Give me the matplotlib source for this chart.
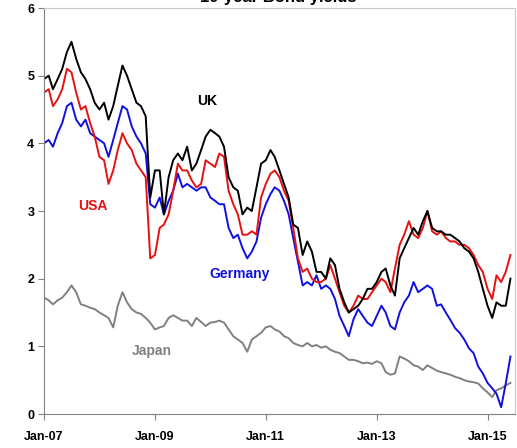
import matplotlib.pyplot as plt
import matplotlib.dates as mdates
import pandas as pd

# monthly 10-year yields, Jan 2007 .. Jun 2015
months = pd.date_range('2007-01-01', periods=102, freq='MS')
tick_dates = pd.to_datetime(['2007-01-01', '2009-01-01', '2011-01-01',
                             '2013-01-01', '2015-01-01'])

uk = [4.95, 5.0, 4.8, 4.95, 5.1, 5.35, 5.5, 5.25, 5.05, 4.95, 4.8, 4.6,
      4.5, 4.6, 4.35, 4.55, 4.85, 5.15, 5.0, 4.8, 4.6, 4.55, 4.4, 3.2,
      3.6, 3.6, 2.95, 3.5, 3.75, 3.85, 3.75, 3.95, 3.6, 3.7, 3.9, 4.1,
      4.2, 4.15, 4.1, 3.95, 3.5, 3.35, 3.3, 2.95, 3.05, 3.0, 3.35, 3.7,
      3.75, 3.9, 3.8, 3.6, 3.4, 3.2, 2.8, 2.75, 2.35, 2.55, 2.4, 2.1,
      2.1, 2.0, 2.3, 2.2, 1.85, 1.65, 1.5, 1.55, 1.6, 1.7, 1.85, 1.85,
      1.95, 2.1, 2.15, 1.9, 1.75, 2.3, 2.45, 2.6, 2.75, 2.65, 2.85, 3.0,
      2.75, 2.7, 2.7, 2.65, 2.65, 2.6, 2.55, 2.45, 2.4, 2.3, 2.1, 1.85,
      1.6, 1.42, 1.65, 1.6, 1.6, 2.0]

usa = [4.75, 4.8, 4.55, 4.65, 4.8, 5.1, 5.05, 4.75, 4.5, 4.55, 4.3, 4.1,
       3.8, 3.75, 3.4, 3.6, 3.9, 4.15, 4.0, 3.9, 3.7, 3.6, 3.5, 2.3,
       2.35, 2.75, 2.8, 2.95, 3.3, 3.7, 3.6, 3.6, 3.45, 3.35, 3.4, 3.75,
       3.7, 3.65, 3.85, 3.8, 3.3, 3.1, 2.95, 2.65, 2.65, 2.7, 2.65, 3.2,
       3.4, 3.55, 3.6, 3.5, 3.3, 3.15, 2.75, 2.3, 2.1, 2.15, 2.0, 1.95,
       1.95, 2.0, 2.2, 2.0, 1.8, 1.6, 1.5, 1.6, 1.75, 1.7, 1.7, 1.8,
       1.9, 2.0, 1.95, 1.8, 2.15, 2.5, 2.65, 2.85, 2.65, 2.6, 2.75, 3.0,
       2.7, 2.65, 2.7, 2.6, 2.55, 2.55, 2.5, 2.5, 2.45, 2.35, 2.2, 2.1,
       1.85, 1.7, 2.05, 1.95, 2.1, 2.35]

germany = [4.0, 4.05, 3.95, 4.15, 4.3, 4.55, 4.6, 4.35, 4.25, 4.35, 4.15, 4.1,
           4.05, 4.0, 3.8, 4.05, 4.3, 4.55, 4.5, 4.25, 4.1, 4.0, 3.85, 3.1,
           3.05, 3.2, 2.95, 3.15, 3.3, 3.55, 3.35, 3.4, 3.35, 3.3, 3.35, 3.35,
           3.2, 3.15, 3.1, 3.1, 2.75, 2.6, 2.65, 2.45, 2.3, 2.4, 2.55, 2.9,
           3.1, 3.25, 3.35, 3.3, 3.15, 2.95, 2.6, 2.25, 1.9, 1.95, 1.9, 2.05,
           1.85, 1.9, 1.85, 1.7, 1.45, 1.3, 1.15, 1.4, 1.55, 1.45, 1.35, 1.3,
           1.45, 1.6, 1.5, 1.3, 1.25, 1.5, 1.65, 1.75, 1.95, 1.8, 1.85, 1.9,
           1.85, 1.6, 1.62, 1.5, 1.39, 1.27, 1.2, 1.1, 0.97, 0.9, 0.7, 0.6,
           0.46, 0.38, 0.3, 0.1, 0.45, 0.85]

japan = [1.72, 1.68, 1.62, 1.68, 1.72, 1.8, 1.9, 1.8, 1.62, 1.6, 1.57, 1.55,
         1.5, 1.46, 1.42, 1.28, 1.6, 1.8, 1.65, 1.55, 1.5, 1.48, 1.42, 1.35,
         1.25, 1.28, 1.3, 1.42, 1.46, 1.42, 1.38, 1.38, 1.3, 1.42, 1.36, 1.3,
         1.35, 1.36, 1.38, 1.35, 1.25, 1.15, 1.1, 1.05, 0.92, 1.1, 1.15, 1.2,
         1.28, 1.3, 1.25, 1.22, 1.15, 1.12, 1.05, 1.02, 1.0, 1.05, 1.0, 1.02,
         0.98, 1.0, 0.95, 0.92, 0.9, 0.85, 0.8, 0.8, 0.78, 0.75, 0.76, 0.74,
         0.78, 0.75, 0.62, 0.58, 0.6, 0.85, 0.82, 0.78, 0.72, 0.7, 0.65, 0.72,
         0.68, 0.64, 0.62, 0.6, 0.58, 0.55, 0.53, 0.5, 0.48, 0.47, 0.45, 0.38,
         0.32, 0.25, 0.35, 0.38, 0.42, 0.46]

plt.rcParams['font.family'] = ['Liberation Sans', 'DejaVu Sans']

fig = plt.figure(figsize=(5.17, 4.48), dpi=100)
ax = fig.add_axes([44 / 517, 1 - 414 / 448, 471 / 517, 406 / 448])

ax.plot(months, japan, color='#808080', linewidth=1.4)
ax.plot(months, germany, color='#1010e0', linewidth=1.4)
ax.plot(months, usa, color='#e81010', linewidth=1.4)
ax.plot(months, uk, color='black', linewidth=1.4)

ax.set_ylim(0, 6)
ax.set_xlim(pd.Timestamp('2007-01-01'), pd.Timestamp('2015-07-01'))
ax.set_xticks(tick_dates)
ax.xaxis.set_major_formatter(mdates.DateFormatter('%b-%y'))
ax.set_yticks(range(0, 7))

for lbl in ax.get_xticklabels() + ax.get_yticklabels():
  lbl.set_fontweight('bold')
  lbl.set_fontsize(9)
ax.tick_params(axis='both', direction='out', length=4, width=0.8,
               color='#808080', pad=3)
ax.tick_params(axis='x', pad=8)

# axis frame: dark left/bottom, light top/right
ax.spines['left'].set_color('#808080')
ax.spines['bottom'].set_color('#808080')
ax.spines['top'].set_color('#c8c8c8')
ax.spines['right'].set_color('#c8c8c8')

# series labels
ax.text(pd.Timestamp('2009-12-10'), 4.62, 'UK', color='black',
        fontsize=10, fontweight='bold', ha='center', va='center')
ax.text(pd.Timestamp('2007-11-20'), 3.07, 'USA', color='#e81010',
        fontsize=10, fontweight='bold', ha='center', va='center')
ax.text(pd.Timestamp('2010-07-15'), 2.07, 'Germany', color='#1010e0',
        fontsize=10, fontweight='bold', ha='center', va='center')
ax.text(pd.Timestamp('2008-12-10'), 0.93, 'Japan', color='#808080',
        fontsize=10, fontweight='bold', ha='center', va='center')

fig.text(278 / 517, 1 - 2 / 448, '10-year Bond yields', fontsize=12,
         fontweight='bold', ha='center', va='baseline')

fig.savefig('out.png', dpi=100)
